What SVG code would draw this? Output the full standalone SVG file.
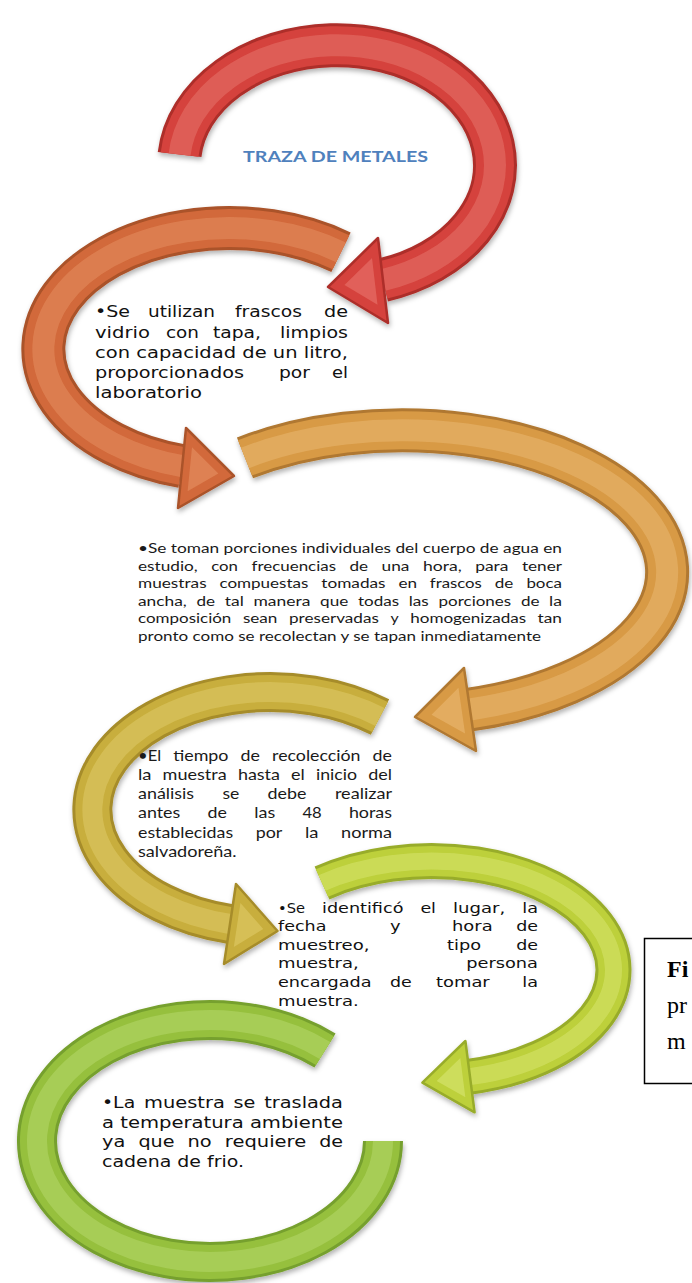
<svg xmlns="http://www.w3.org/2000/svg" xmlns:xlink="http://www.w3.org/1999/xlink" width="692" height="1283" viewBox="0 0 692 1283">
<style>
.arc{fill:none;stroke-linecap:butt}
.hl{fill:none;stroke-linecap:butt;opacity:.35}
.head{stroke-width:2.5;stroke-linejoin:round}
.hin{opacity:.4}
.b1{font-family:"DejaVu Sans",Verdana,sans-serif;font-size:15px;fill:#111}
.b4{font-family:"DejaVu Sans",Verdana,sans-serif;font-size:14.6px;fill:#111}
.b2{font-family:Lato,"Open Sans",sans-serif;font-size:13.6px;fill:#1a1a1a}
.b3{font-family:Lato,"Open Sans",sans-serif;font-size:16.2px;fill:#1a1a1a}
.title{font-family:Lato,"Open Sans",sans-serif;font-size:15.5px;font-weight:bold;fill:#4F81BD}
.fig{font-family:"Liberation Serif","Times New Roman",serif;font-size:24px;fill:#000}
</style>
<defs>
<filter id="sh" x="-10%" y="-10%" width="120%" height="130%">
<feDropShadow dx="1" dy="3" stdDeviation="2.5" flood-color="#000" flood-opacity="0.3"/>
</filter>
<path id="p1" d="M 179.6 154.5 A 158 120 0 1 1 383 280"/>
<path id="p2" d="M 341 252.3 A 186 121 0 1 0 182.1 466.1"/>
<path id="p3" d="M 245 457.9 A 265 142 0 1 1 470 709.5"/>
<path id="p4" d="M 380 717 A 178 117.5 0 1 0 230 924"/>
<path id="p5" d="M 322 883 A 182 109 0 1 1 470 1076.6"/>
<path id="p6" d="M 325 1050.6 A 173 121 0 1 0 383 1141"/>
</defs>
<rect width="692" height="1283" fill="#fff"/>

<g id="connectors">
<g id="arrow6" filter="url(#sh)">
<use href="#p6" class="arc" stroke="#76A02E" stroke-width="40"/>
<use href="#p6" class="arc" stroke="#96C03E" stroke-width="34"/>
<use href="#p6" class="hl" stroke="#C8E684" stroke-width="20"/>
</g>
<g id="arrow5" filter="url(#sh)">
<use href="#p5" class="arc" stroke="#98AC2A" stroke-width="36"/>
<use href="#p5" class="arc" stroke="#BDD03A" stroke-width="30"/>
<use href="#p5" class="hl" stroke="#E6F08E" stroke-width="17"/>
<polygon class="head" points="422.4,1082.7 465.4,1041 474.6,1112.3" fill="#BDD03A" stroke="#98AC2A"/>
<polygon class="hin" points="422.4,1082.7 465.4,1041 474.6,1112.3" fill="#E6F08E" transform="translate(454.1 1078.7) scale(.55) translate(-454.1 -1078.7)"/>
</g>
<g id="arrow4" filter="url(#sh)">
<use href="#p4" class="arc" stroke="#A68C2A" stroke-width="40"/>
<use href="#p4" class="arc" stroke="#C8AE3C" stroke-width="34"/>
<use href="#p4" class="hl" stroke="#EADA80" stroke-width="20"/>
<polygon class="head" points="277.5,931 236,884 224,964" fill="#C8AE3C" stroke="#A68C2A"/>
<polygon class="hin" points="277.5,931 236,884 224,964" fill="#EADA80" transform="translate(245.8 926.3) scale(.55) translate(-245.8 -926.3)"/>
</g>
<g id="arrow3" filter="url(#sh)">
<use href="#p3" class="arc" stroke="#B07830" stroke-width="44"/>
<use href="#p3" class="arc" stroke="#D89A45" stroke-width="38"/>
<use href="#p3" class="hl" stroke="#F4C98A" stroke-width="22"/>
<polygon class="head" points="415,717 464,668 476,751" fill="#D89A45" stroke="#B07830"/>
<polygon class="hin" points="415,717 464,668 476,751" fill="#F4C98A" transform="translate(451.7 712) scale(.55) translate(-451.7 -712)"/>
</g>
<g id="arrow2" filter="url(#sh)">
<use href="#p2" class="arc" stroke="#AA5229" stroke-width="44"/>
<use href="#p2" class="arc" stroke="#D2693A" stroke-width="38"/>
<use href="#p2" class="hl" stroke="#F0A478" stroke-width="22"/>
<polygon class="head" points="234,476 186,428 178,508" fill="#D2693A" stroke="#AA5229"/>
<polygon class="hin" points="234,476 186,428 178,508" fill="#F0A478" transform="translate(199.3 470.7) scale(.55) translate(-199.3 -470.7)"/>
</g>
<g id="arrow1" filter="url(#sh)">
<use href="#p1" class="arc" stroke="#AD2E29" stroke-width="44"/>
<use href="#p1" class="arc" stroke="#D5423C" stroke-width="38"/>
<use href="#p1" class="hl" stroke="#F28E88" stroke-width="22"/>
<polygon class="head" points="328,287 378,238 388,323" fill="#D5423C" stroke="#AD2E29"/>
<polygon class="hin" points="328,287 378,238 388,323" fill="#F28E88" transform="translate(364.7 282.7) scale(.55) translate(-364.7 -282.7)"/>
</g>
</g>

<g id="title">
<text class="title" x="243" y="162" textLength="185" lengthAdjust="spacingAndGlyphs">TRAZA DE METALES</text>
</g>

<g id="node1">
<text class="b1" x="95" y="317" textLength="35" lengthAdjust="spacingAndGlyphs">•Se</text>
<text class="b1" x="148" y="317" textLength="67" lengthAdjust="spacingAndGlyphs">utilizan</text>
<text class="b1" x="235" y="317" textLength="67" lengthAdjust="spacingAndGlyphs">frascos</text>
<text class="b1" x="324" y="317" textLength="24" lengthAdjust="spacingAndGlyphs">de</text>
<text class="b1" x="95" y="337.5" textLength="55" lengthAdjust="spacingAndGlyphs">vidrio</text>
<text class="b1" x="166" y="337.5" textLength="33" lengthAdjust="spacingAndGlyphs">con</text>
<text class="b1" x="213" y="337.5" textLength="48" lengthAdjust="spacingAndGlyphs">tapa,</text>
<text class="b1" x="280" y="337.5" textLength="68" lengthAdjust="spacingAndGlyphs">limpios</text>
<text class="b1" x="95" y="358" textLength="253" lengthAdjust="spacingAndGlyphs">con capacidad de un litro,</text>
<text class="b1" x="95" y="378" textLength="149" lengthAdjust="spacingAndGlyphs">proporcionados</text>
<text class="b1" x="279" y="378" textLength="31" lengthAdjust="spacingAndGlyphs">por</text>
<text class="b1" x="332" y="378" textLength="16" lengthAdjust="spacingAndGlyphs">el</text>
<text class="b1" x="95" y="398" textLength="107" lengthAdjust="spacingAndGlyphs">laboratorio</text>
</g>

<g id="node2">
<text class="b2" x="138" y="553" textLength="424" lengthAdjust="spacingAndGlyphs">•Se toman porciones individuales del cuerpo de agua en</text>
<text class="b2" x="138" y="570.6" textLength="59.7" lengthAdjust="spacingAndGlyphs">estudio,</text>
<text class="b2" x="211.2" y="570.6" textLength="26.8" lengthAdjust="spacingAndGlyphs">con</text>
<text class="b2" x="251.5" y="570.6" textLength="84.5" lengthAdjust="spacingAndGlyphs">frecuencias</text>
<text class="b2" x="349.5" y="570.6" textLength="18.6" lengthAdjust="spacingAndGlyphs">de</text>
<text class="b2" x="381.6" y="570.6" textLength="27.8" lengthAdjust="spacingAndGlyphs">una</text>
<text class="b2" x="422.9" y="570.6" textLength="38.8" lengthAdjust="spacingAndGlyphs">hora,</text>
<text class="b2" x="475.2" y="570.6" textLength="33.3" lengthAdjust="spacingAndGlyphs">para</text>
<text class="b2" x="521.9" y="570.6" textLength="40.1" lengthAdjust="spacingAndGlyphs">tener</text>
<text class="b2" x="138" y="588.2" textLength="68.6" lengthAdjust="spacingAndGlyphs">muestras</text>
<text class="b2" x="219.4" y="588.2" textLength="89.1" lengthAdjust="spacingAndGlyphs">compuestas</text>
<text class="b2" x="321.3" y="588.2" textLength="64.3" lengthAdjust="spacingAndGlyphs">tomadas</text>
<text class="b2" x="398.4" y="588.2" textLength="18.6" lengthAdjust="spacingAndGlyphs">en</text>
<text class="b2" x="429.8" y="588.2" textLength="52.1" lengthAdjust="spacingAndGlyphs">frascos</text>
<text class="b2" x="494.7" y="588.2" textLength="18.6" lengthAdjust="spacingAndGlyphs">de</text>
<text class="b2" x="526.4" y="588.2" textLength="35.6" lengthAdjust="spacingAndGlyphs">boca</text>
<text class="b2" x="138" y="605.8" textLength="48.8" lengthAdjust="spacingAndGlyphs">ancha,</text>
<text class="b2" x="196.5" y="605.8" textLength="18.6" lengthAdjust="spacingAndGlyphs">de</text>
<text class="b2" x="224.8" y="605.8" textLength="19" lengthAdjust="spacingAndGlyphs">tal</text>
<text class="b2" x="253.5" y="605.8" textLength="56.9" lengthAdjust="spacingAndGlyphs">manera</text>
<text class="b2" x="320.1" y="605.8" textLength="28.2" lengthAdjust="spacingAndGlyphs">que</text>
<text class="b2" x="358" y="605.8" textLength="41.1" lengthAdjust="spacingAndGlyphs">todas</text>
<text class="b2" x="408.8" y="605.8" textLength="20" lengthAdjust="spacingAndGlyphs">las</text>
<text class="b2" x="438.5" y="605.8" textLength="72.7" lengthAdjust="spacingAndGlyphs">porciones</text>
<text class="b2" x="520.9" y="605.8" textLength="18.6" lengthAdjust="spacingAndGlyphs">de</text>
<text class="b2" x="549.1" y="605.8" textLength="12.9" lengthAdjust="spacingAndGlyphs">la</text>
<text class="b2" x="138" y="623.4" textLength="93.3" lengthAdjust="spacingAndGlyphs">composición</text>
<text class="b2" x="242.9" y="623.4" textLength="34.5" lengthAdjust="spacingAndGlyphs">sean</text>
<text class="b2" x="289" y="623.4" textLength="89.8" lengthAdjust="spacingAndGlyphs">preservadas</text>
<text class="b2" x="390.4" y="623.4" textLength="8.2" lengthAdjust="spacingAndGlyphs">y</text>
<text class="b2" x="410.2" y="623.4" textLength="115.9" lengthAdjust="spacingAndGlyphs">homogenizadas</text>
<text class="b2" x="537.6" y="623.4" textLength="24.4" lengthAdjust="spacingAndGlyphs">tan</text>
<text class="b2" x="138" y="641" textLength="403" lengthAdjust="spacingAndGlyphs">pronto como se recolectan y se tapan inmediatamente</text>
</g>

<g id="node3">
<text class="b3" x="138" y="760.5" textLength="23.1" lengthAdjust="spacingAndGlyphs">•El</text>
<text class="b3" x="173.2" y="760.5" textLength="55.3" lengthAdjust="spacingAndGlyphs">tiempo</text>
<text class="b3" x="240.6" y="760.5" textLength="19.4" lengthAdjust="spacingAndGlyphs">de</text>
<text class="b3" x="272.1" y="760.5" textLength="88.4" lengthAdjust="spacingAndGlyphs">recolección</text>
<text class="b3" x="372.6" y="760.5" textLength="19.4" lengthAdjust="spacingAndGlyphs">de</text>
<text class="b3" x="138" y="779.8" textLength="13.5" lengthAdjust="spacingAndGlyphs">la</text>
<text class="b3" x="162.6" y="779.8" textLength="64.1" lengthAdjust="spacingAndGlyphs">muestra</text>
<text class="b3" x="237.9" y="779.8" textLength="42" lengthAdjust="spacingAndGlyphs">hasta</text>
<text class="b3" x="291" y="779.8" textLength="13.8" lengthAdjust="spacingAndGlyphs">el</text>
<text class="b3" x="315.9" y="779.8" textLength="41.1" lengthAdjust="spacingAndGlyphs">inicio</text>
<text class="b3" x="368.2" y="779.8" textLength="23.8" lengthAdjust="spacingAndGlyphs">del</text>
<text class="b3" x="138" y="799.1" textLength="56.1" lengthAdjust="spacingAndGlyphs">análisis</text>
<text class="b3" x="222.4" y="799.1" textLength="16.9" lengthAdjust="spacingAndGlyphs">se</text>
<text class="b3" x="267.6" y="799.1" textLength="38.9" lengthAdjust="spacingAndGlyphs">debe</text>
<text class="b3" x="334.9" y="799.1" textLength="57.1" lengthAdjust="spacingAndGlyphs">realizar</text>
<text class="b3" x="138" y="818.4" textLength="42.3" lengthAdjust="spacingAndGlyphs">antes</text>
<text class="b3" x="207.6" y="818.4" textLength="19.4" lengthAdjust="spacingAndGlyphs">de</text>
<text class="b3" x="254.3" y="818.4" textLength="20.9" lengthAdjust="spacingAndGlyphs">las</text>
<text class="b3" x="302.4" y="818.4" textLength="19.3" lengthAdjust="spacingAndGlyphs">48</text>
<text class="b3" x="348.9" y="818.4" textLength="43.1" lengthAdjust="spacingAndGlyphs">horas</text>
<text class="b3" x="138" y="837.7" textLength="95.1" lengthAdjust="spacingAndGlyphs">establecidas</text>
<text class="b3" x="255.7" y="837.7" textLength="26.6" lengthAdjust="spacingAndGlyphs">por</text>
<text class="b3" x="304.9" y="837.7" textLength="13.5" lengthAdjust="spacingAndGlyphs">la</text>
<text class="b3" x="341.1" y="837.7" textLength="50.9" lengthAdjust="spacingAndGlyphs">norma</text>
<text class="b3" x="138" y="857" textLength="98.5" lengthAdjust="spacingAndGlyphs">salvadoreña.</text>
</g>

<g id="node4">
<text class="b4" x="278" y="912.5" textLength="27" lengthAdjust="spacingAndGlyphs">•Se</text>
<text class="b4" x="322" y="912.5" textLength="81.4" lengthAdjust="spacingAndGlyphs">identificó</text>
<text class="b4" x="420.4" y="912.5" textLength="15.6" lengthAdjust="spacingAndGlyphs">el</text>
<text class="b4" x="453" y="912.5" textLength="52.3" lengthAdjust="spacingAndGlyphs">lugar,</text>
<text class="b4" x="522.3" y="912.5" textLength="15.7" lengthAdjust="spacingAndGlyphs">la</text>
<text class="b4" x="278" y="931" textLength="48.4" lengthAdjust="spacingAndGlyphs">fecha</text>
<text class="b4" x="390" y="931" textLength="10.6" lengthAdjust="spacingAndGlyphs">y</text>
<text class="b4" x="452" y="931" textLength="40.6" lengthAdjust="spacingAndGlyphs">hora</text>
<text class="b4" x="516.2" y="931" textLength="21.8" lengthAdjust="spacingAndGlyphs">de</text>
<text class="b4" x="278" y="949.5" textLength="91.5" lengthAdjust="spacingAndGlyphs">muestreo,</text>
<text class="b4" x="447" y="949.5" textLength="34" lengthAdjust="spacingAndGlyphs">tipo</text>
<text class="b4" x="516.2" y="949.5" textLength="21.8" lengthAdjust="spacingAndGlyphs">de</text>
<text class="b4" x="278" y="968" textLength="80.7" lengthAdjust="spacingAndGlyphs">muestra,</text>
<text class="b4" x="466.3" y="968" textLength="71.7" lengthAdjust="spacingAndGlyphs">persona</text>
<text class="b4" x="278" y="986.7" textLength="93.5" lengthAdjust="spacingAndGlyphs">encargada</text>
<text class="b4" x="390" y="986.7" textLength="21.8" lengthAdjust="spacingAndGlyphs">de</text>
<text class="b4" x="436" y="986.7" textLength="53.7" lengthAdjust="spacingAndGlyphs">tomar</text>
<text class="b4" x="522.3" y="986.7" textLength="15.7" lengthAdjust="spacingAndGlyphs">la</text>
<text class="b4" x="278" y="1005.5" textLength="80.7" lengthAdjust="spacingAndGlyphs">muestra.</text>
</g>

<g id="node5">
<text class="b1" x="102" y="1108" textLength="33.2" lengthAdjust="spacingAndGlyphs">•La</text>
<text class="b1" x="144" y="1108" textLength="80.8" lengthAdjust="spacingAndGlyphs">muestra</text>
<text class="b1" x="233.6" y="1108" textLength="21.8" lengthAdjust="spacingAndGlyphs">se</text>
<text class="b1" x="264.2" y="1108" textLength="78.8" lengthAdjust="spacingAndGlyphs">traslada</text>
<text class="b1" x="102" y="1127.5" textLength="241" lengthAdjust="spacingAndGlyphs">a temperatura ambiente</text>
<text class="b1" x="102" y="1147" textLength="23.3" lengthAdjust="spacingAndGlyphs">ya</text>
<text class="b1" x="138.4" y="1147" textLength="36.1" lengthAdjust="spacingAndGlyphs">que</text>
<text class="b1" x="187.5" y="1147" textLength="24.2" lengthAdjust="spacingAndGlyphs">no</text>
<text class="b1" x="224.8" y="1147" textLength="81.4" lengthAdjust="spacingAndGlyphs">requiere</text>
<text class="b1" x="319.2" y="1147" textLength="23.8" lengthAdjust="spacingAndGlyphs">de</text>
<text class="b1" x="102" y="1166.5" textLength="142" lengthAdjust="spacingAndGlyphs">cadena de frio.</text>
</g>

<g id="caption">
<rect x="644.5" y="938.5" width="60" height="145" fill="#fff" stroke="#000" stroke-width="1.5"/>
<text class="fig" x="667" y="977" font-weight="bold">Fi</text>
<text class="fig" x="667" y="1013">pr</text>
<text class="fig" x="667" y="1049">m</text>
</g>
</svg>
